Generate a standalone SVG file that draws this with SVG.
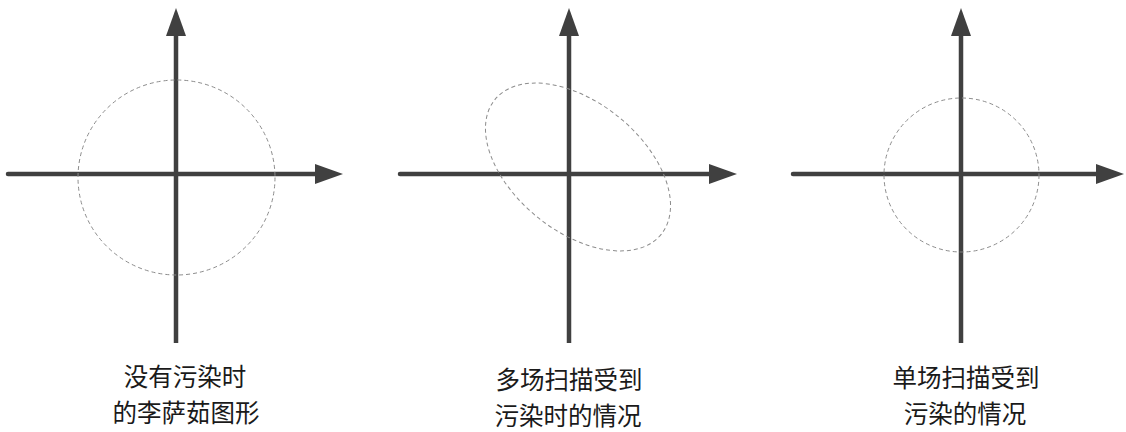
<svg xmlns="http://www.w3.org/2000/svg" width="1126" height="432" viewBox="0 0 1126 432">
<style>
.ax{stroke:#404040;stroke-width:4.5;fill:none;marker-end:url(#ah)}
.h{stroke-linecap:round}
.lj{fill:none;stroke:#8c8c8c;stroke-width:1;stroke-dasharray:4 3}
.lbl{font-family:"Noto Sans CJK SC","Noto Sans",sans-serif;font-size:24.5px;fill:#1a1a1a;text-anchor:middle}
</style>
<defs>
<marker id="ah" viewBox="0 0 28 20" refX="5" refY="10" markerWidth="28" markerHeight="20" markerUnits="userSpaceOnUse" orient="auto">
<path d="M0,0 L28,10 L0,20 z" fill="#404040"/>
</marker>
</defs>
<g id="connectors">
<line class="ax h" x1="8" y1="174" x2="320" y2="174"/>
<line class="ax" x1="176" y1="343" x2="176" y2="31"/>
<line class="ax h" x1="400" y1="174" x2="714" y2="174"/>
<line class="ax" x1="569" y1="343" x2="569" y2="31"/>
<line class="ax h" x1="793" y1="174" x2="1101" y2="174"/>
<line class="ax" x1="961" y1="343" x2="961" y2="31"/>
</g>
<g id="panel1">
<ellipse class="lj" cx="176.5" cy="177.5" rx="98.5" ry="97.5"/>
<text class="lbl" x="185" y="386">没有污染时</text>
<text class="lbl" x="186" y="422">的李萨茹图形</text>
</g>
<g id="panel2">
<ellipse class="lj" cx="578" cy="167" rx="107" ry="64.5" transform="rotate(39 578 167)"/>
<text class="lbl" x="569" y="389">多场扫描受到</text>
<text class="lbl" x="568" y="425">污染时的情况</text>
</g>
<g id="panel3">
<ellipse class="lj" cx="961.5" cy="175" rx="77.5" ry="77"/>
<text class="lbl" x="966" y="387">单场扫描受到</text>
<text class="lbl" x="965" y="423">污染的情况</text>
</g>
</svg>
